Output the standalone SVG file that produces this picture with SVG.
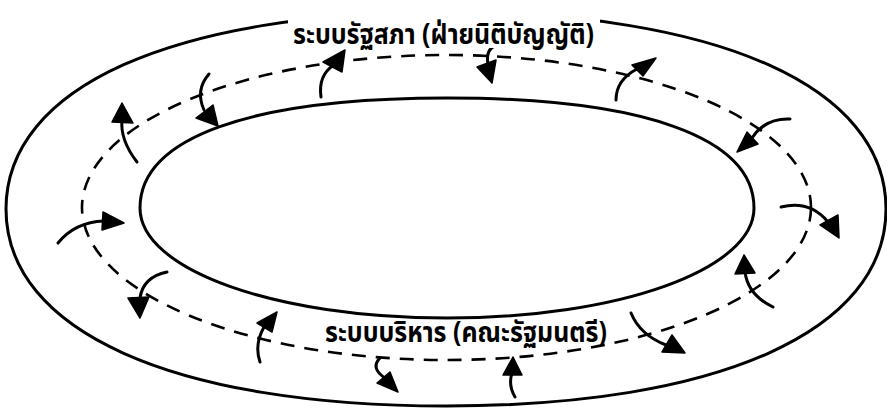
<svg xmlns="http://www.w3.org/2000/svg" width="887" height="413" viewBox="0 0 887 413">
<style>
.ring{fill:none;stroke:#000;stroke-width:3}
.cycle{fill:none;stroke:#000;stroke-width:2.6;stroke-dasharray:14 10}
.shaft{fill:none;stroke:#000;stroke-width:3;stroke-linecap:round}
.head{fill:#000;stroke:#000;stroke-width:1.5;stroke-linejoin:round}
.label{font-family:"Noto Sans Thai","Noto Sans","DejaVu Sans",sans-serif;font-weight:bold;font-size:29px;fill:#000}
</style>
<rect width="887" height="413" fill="#fff"/>
<g id="outer-ring">
<path class="ring" d="M6,209 C6,86.9 173.2,12 446,12 C718.8,12 886,86.9 886,209 C886,331.1 718.8,406 446,406 C173.2,406 6,331.1 6,209 Z"/>
</g>
<g id="inner-ring">
<path class="ring" d="M140,208 C140,137.6 250.5,98 447,98 C643.5,98 754,137.6 754,208 C754,269.6 619,318 447,318 C275,318 140,269.6 140,208 Z"/>
</g>
<g id="cycle">
<ellipse class="cycle" cx="446.5" cy="207.5" rx="364.5" ry="152.5"/>
</g>
<g id="connectors">
<path class="shaft" d="M137,162 Q120,140 122,120"/>
<polygon class="head" points="122,103 112,122 133,123"/>
<path class="shaft" d="M209,74 Q195,90 204,110"/>
<polygon class="head" points="196,118 213,105 218,126"/>
<path class="shaft" d="M321,97 Q318,75 334,65"/>
<polygon class="head" points="345,50 323,62 342,72"/>
<path class="shaft" d="M498,45 Q485,48 488,64"/>
<polygon class="head" points="477,67 496,60 492,83"/>
<path class="shaft" d="M616,100 Q616,80 637,69"/>
<polygon class="head" points="656,58 632,65 643,76"/>
<path class="shaft" d="M790,119 Q765,118 752,138"/>
<polygon class="head" points="737,152 747,132 758,144"/>
<path class="shaft" d="M781,207 Q810,200 828,222"/>
<polygon class="head" points="839,238 820,225 838,215"/>
<path class="shaft" d="M773,307 Q748,295 745,272"/>
<polygon class="head" points="744,255 735,274 755,273"/>
<path class="shaft" d="M631,313 Q640,335 666,345"/>
<polygon class="head" points="685,353 662,352 672,335"/>
<path class="shaft" d="M515,397 Q508,385 512,373"/>
<polygon class="head" points="513,357 503,375 522,375"/>
<path class="shaft" d="M380,358 Q370,368 385,378"/>
<polygon class="head" points="398,392 377,383 390,372"/>
<path class="shaft" d="M260,362 Q254,345 264,327"/>
<polygon class="head" points="277,312 257,323 272,332"/>
<path class="shaft" d="M167,272 Q143,277 140,298"/>
<polygon class="head" points="140,318 128,298 149,297"/>
<path class="shaft" d="M58,243 Q75,222 104,221"/>
<polygon class="head" points="124,223 103,212 102,230"/>
</g>
<g id="label-legislative">
<rect x="288" y="4" width="312" height="44" fill="#fff"/>
<text class="label" x="293" y="44" textLength="301" lengthAdjust="spacingAndGlyphs">ระบบรัฐสภา (ฝ่ายนิติบัญญัติ)</text>
</g>
<g id="label-executive">
<text class="label" x="325" y="342" textLength="282" lengthAdjust="spacingAndGlyphs">ระบบบริหาร (คณะรัฐมนตรี)</text>
</g>
</svg>
